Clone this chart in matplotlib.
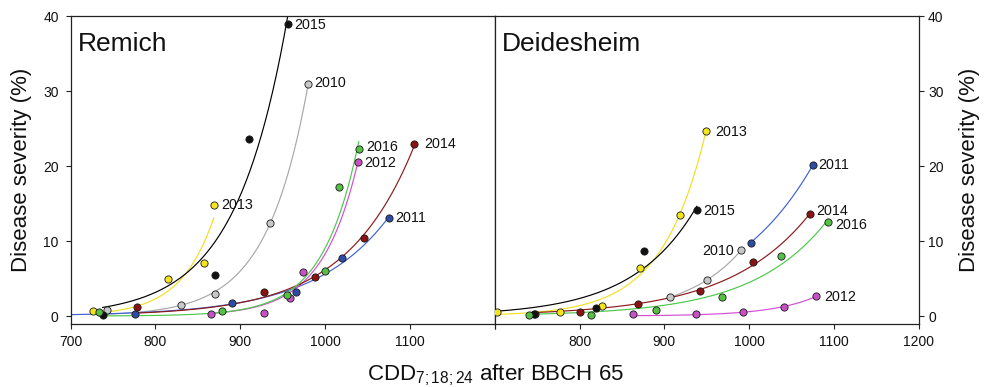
import numpy as np
import matplotlib
matplotlib.use("Agg")
import matplotlib.pyplot as plt

plt.rcParams['font.family'] = ['Liberation Sans', 'DejaVu Sans']
plt.rcParams['mathtext.fontset'] = 'custom'
plt.rcParams['mathtext.rm'] = 'Liberation Sans'
plt.rcParams['mathtext.it'] = 'Liberation Sans'

years = [2010, 2011, 2012, 2013, 2014, 2015, 2016]

# Remich: CDD after BBCH 65 vs disease severity (%)
remich_x = {
    2010: [743, 829.7, 869.8, 935.2, 980.2],
    2011: [775.5, 890.6, 965.4, 1020.1, 1075.5],
    2012: [865, 928.5, 959.1, 974.1, 1038.8],
    2013: [726, 815.2, 857.7, 868.7],
    2014: [778.5, 928.1, 988.2, 1046, 1105.2],
    2015: [737.7, 870.7, 910, 955.9],
    2016: [733, 878.4, 955.6, 1000, 1016.6, 1039.6],
}
remich_y = {
    2010: [0.8, 1.5, 3.0, 12.4, 31.0],
    2011: [0.22, 1.73, 3.16, 7.7, 13.1],
    2012: [0.22, 0.4, 2.36, 5.9, 20.5],
    2013: [0.71, 4.98, 7.07, 14.8],
    2014: [1.24, 3.2, 5.16, 10.4, 22.9],
    2015: [0.18, 5.5, 23.6, 38.9],
    2016: [0.53, 0.72, 2.8, 6.0, 17.2, 22.3],
}

# Deidesheim
deid_x = {
    2010: [906.2, 950.4, 990.4],
    2011: [1001.8, 1074.8],
    2012: [863, 936.7, 992.8, 1040.7, 1078.3],
    2013: [702.7, 776.6, 826.9, 871.5, 918.2, 949.2],
    2014: [747.5, 800.2, 869.3, 942.2, 1004.5, 1072],
    2015: [746.8, 819, 876.2, 938.2],
    2016: [740.4, 813.1, 890.6, 967.3, 1037.9, 1092.9],
}
deid_y = {
    2010: [2.49, 4.84, 8.76],
    2011: [9.8, 20.1],
    2012: [0.22, 0.27, 0.49, 1.2, 2.62],
    2013: [0.49, 0.58, 1.29, 6.36, 13.5, 24.7],
    2014: [0.27, 0.53, 1.64, 3.33, 7.2, 13.6],
    2015: [0.22, 1.07, 8.7, 14.1],
    2016: [0.18, 0.18, 0.8, 2.49, 8.0, 12.5],
}

# where the fitted curves start / end when they differ from the data range
remich_span = {2011: (700, None), 2015: (None, 962)}
deid_span = {2015: (700, None)}

fill_colors = {2010: '#c8c8c8', 2011: '#2c4ca6', 2012: '#c651c3', 2013: '#f4e41c',
               2014: '#8a1212', 2015: '#111111', 2016: '#55c043'}
line_colors = {2010: '#a8a8a8', 2011: '#3f62d0', 2012: '#d34fd3', 2013: '#f0e020',
               2014: '#8c1a1a', 2015: '#000000', 2016: '#4cc84c'}

# year label anchors (x, y, ha)
remich_labels = {2015: (964, 38.8, 'left'), 2010: (987, 31.1, 'left'),
                 2016: (1048, 22.5, 'left'), 2012: (1046, 20.4, 'left'),
                 2014: (1117, 22.9, 'left'), 2013: (878, 14.8, 'left'),
                 2011: (1083, 13.1, 'left')}
deid_labels = {2013: (960, 24.5, 'left'), 2011: (1081, 20.1, 'left'),
               2015: (946, 14.0, 'left'), 2014: (1079, 14.0, 'left'),
               2016: (1101, 12.2, 'left'), 2010: (982, 8.7, 'right'),
               2012: (1088, 2.5, 'left')}


def exp_fit(x, y):
    """Least squares fit of y = a*exp(b*(x-x0))."""
    x = np.asarray(x, float)
    y = np.asarray(y, float)
    x0 = x.mean()
    w = np.clip(y, 0.05, None)
    b, lna = np.polyfit(x - x0, np.log(w), 1, w=w)
    a = np.exp(lna)
    for _ in range(200):
        e = np.exp(b * (x - x0))
        r = y - a * e
        J = np.column_stack([e, a * (x - x0) * e])
        step = np.linalg.lstsq(J, r, rcond=None)[0]
        a += 0.5 * step[0]
        b += 0.5 * step[1]
    return a, b, x0


def draw_panel(ax, xs, ys, spans, labels, title):
    for yr in years:
        a, b, x0 = exp_fit(xs[yr], ys[yr])
        lo, hi = spans.get(yr, (None, None))
        lo = min(xs[yr]) if lo is None else lo
        hi = max(xs[yr]) if hi is None else hi
        xx = np.linspace(lo, hi, 200)
        ax.plot(xx, a * np.exp(b * (xx - x0)), color=line_colors[yr], lw=0.85, zorder=2)
    for yr in years:
        ax.plot(xs[yr], ys[yr], 'o', ms=5.2, mfc=fill_colors[yr], mec='#1a1a1a',
                mew=0.6, zorder=3)
        lx, ly, ha = labels[yr]
        ax.text(lx, ly, str(yr), fontsize=10.3, ha=ha, va='center', color='#111111')
    ax.text(0.016, 0.885, title, transform=ax.transAxes, fontsize=19,
            va='baseline', ha='left', color='#111111')
    ax.set_xlim(700, 1200)
    ax.set_ylim(-1, 40)
    ax.set_xticks([700, 800, 900, 1000, 1100, 1200])
    ax.set_yticks([0, 10, 20, 30, 40])
    for s in ax.spines.values():
        s.set_linewidth(0.9)
        s.set_color('#222222')
    ax.tick_params(direction='out', length=3.6, width=0.8, labelsize=10,
                   color='#222222', labelcolor='#111111')


fig = plt.figure(figsize=(9.94, 3.87), dpi=100)
ax1 = fig.add_axes([0.0711, 0.164, 0.4266, 0.7946])
ax2 = fig.add_axes([0.4977, 0.164, 0.4268, 0.7946])

draw_panel(ax1, remich_x, remich_y, remich_span, remich_labels, 'Remich')
draw_panel(ax2, deid_x, deid_y, deid_span, deid_labels, 'Deidesheim')

ax1.set_xticklabels(['700', '800', '900', '1000', '1100', ''])
ax2.set_xticklabels(['', '800', '900', '1000', '1100', '1200'])
ax1.tick_params(axis='y', pad=5)
ax2.yaxis.tick_right()
ax2.tick_params(axis='y', pad=3)
ax1.tick_params(axis='x', pad=5)
ax2.tick_params(axis='x', pad=5)

fig.text(0.022, 0.561, 'Disease severity (%)', rotation=90, fontsize=16,
         ha='center', va='center', color='#111111')
fig.text(0.975, 0.561, 'Disease severity (%)', rotation=90, fontsize=16,
         ha='center', va='center', color='#111111')
fig.text(0.498, 0.016, r'CDD$_{\mathrm{7;18;24}}$ after BBCH 65', fontsize=16,
         ha='center', va='baseline', color='#111111')

fig.savefig('out.png', dpi=100)
